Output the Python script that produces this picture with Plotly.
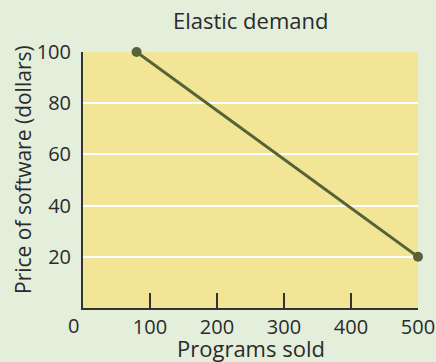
import plotly.graph_objects as go

# Demand curve endpoints
programs_sold = [80, 500]
price_dollars = [100, 20]

x_ticks = [100, 200, 300, 400, 500]
y_ticks = [20, 40, 60, 80, 100]

line_color = "#566338"
text_color = "#2b2b2b"
font_family = "Open Sans, sans-serif"

W, H = 436, 362
M = dict(l=83, r=18, t=52, b=54)

fig = go.Figure()
fig.add_trace(go.Scatter(
    x=programs_sold, y=price_dollars,
    mode="lines+markers",
    line=dict(color=line_color, width=3),
    marker=dict(color=line_color, size=10),
    cliponaxis=False,
    showlegend=False,
))

fig.update_layout(
    width=W, height=H,
    margin=dict(**M, autoexpand=False),
    paper_bgcolor="#e3eedb",
    plot_bgcolor="#f3e596",
    font=dict(family=font_family, size=20, color=text_color),
    title=dict(text="Elastic demand", x=0.575, xanchor="center",
               y=1 - 21 / H, yanchor="middle",
               font=dict(size=22, color=text_color)),
    xaxis=dict(
        range=[0, 500], tickvals=x_ticks, ticktext=[str(v) for v in x_ticks],
        showgrid=False, zeroline=False, automargin=False,
        showline=True, linecolor="#333333", linewidth=2,
        ticks="inside", ticklen=15, tickwidth=2, tickcolor="#333333",
        ticklabelstandoff=0,
        fixedrange=True,
    ),
    yaxis=dict(
        range=[0, 100], tickvals=y_ticks, ticktext=[str(v) for v in y_ticks],
        showgrid=True, gridcolor="white", gridwidth=2,
        zeroline=False, automargin=False,
        showline=True, linecolor="#333333", linewidth=2,
        ticks="", ticklabelstandoff=6,
        fixedrange=True,
    ),
)

plot_w = W - M["l"] - M["r"]
plot_h = H - M["t"] - M["b"]

# Axis titles
fig.add_annotation(text="Programs sold", xref="paper", yref="paper",
                   x=0.5, y=-(348 - (H - M["b"])) / plot_h,
                   xanchor="center", yanchor="middle", showarrow=False,
                   font=dict(size=22, color=text_color))
fig.add_annotation(text="Price of software (dollars)", xref="paper", yref="paper",
                   x=-(M["l"] - 23) / plot_w, y=((H - M["b"]) - 170) / plot_h,
                   xanchor="center", yanchor="middle", textangle=-90,
                   showarrow=False, font=dict(size=21, color=text_color))

# Shared origin label
fig.add_annotation(x=0, y=0, xref="x", yref="y", text="0", showarrow=False,
                   xanchor="right", yanchor="top", xshift=-2, yshift=-2,
                   font=dict(size=20, color=text_color))

fig.write_html("out.html")
